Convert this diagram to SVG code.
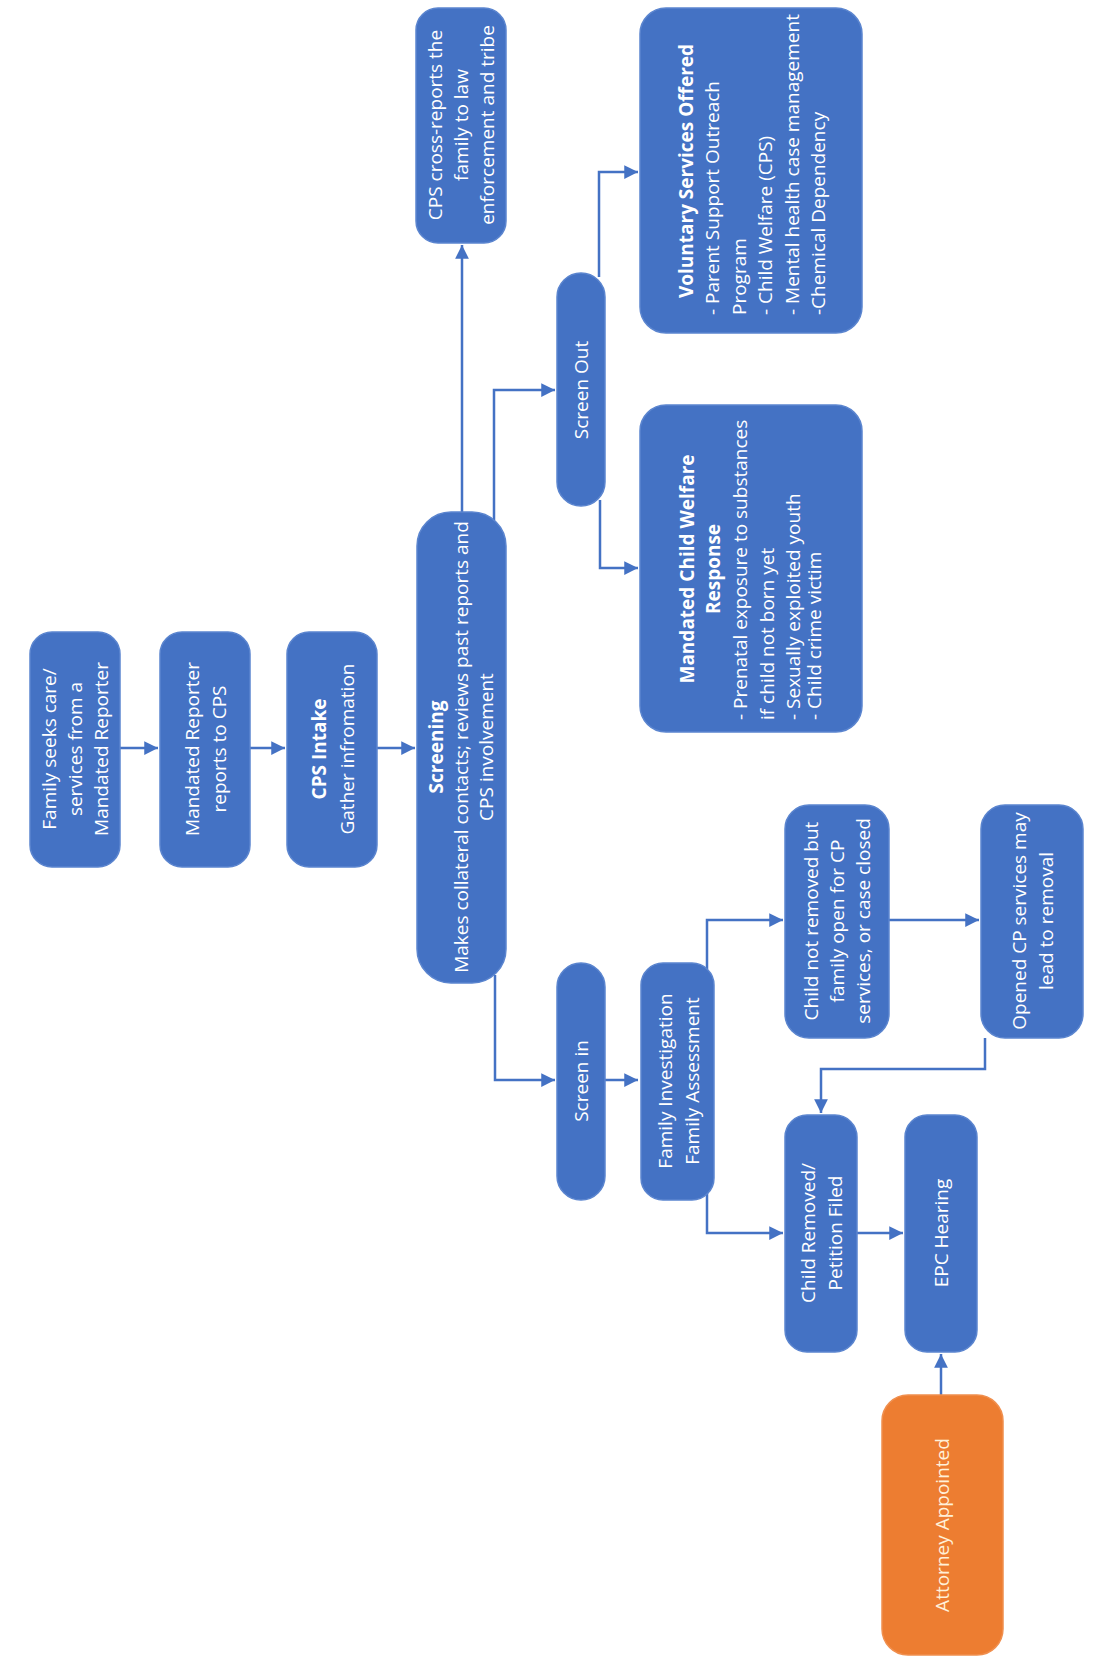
<svg xmlns="http://www.w3.org/2000/svg" width="1107" height="1678" viewBox="0 0 1107 1678">
<defs>
<marker id="ah" viewBox="0 0 10 10" refX="10" refY="5" markerWidth="5.5" markerHeight="5.5" orient="auto" markerUnits="strokeWidth">
<path d="M0,0 L10,5 L0,10 z" fill="#4472C4"/>
</marker>
<style>
.b{fill:#4472C4;stroke:#5B85CF;stroke-width:1.5}
.o{fill:#ED7D31;stroke:#F08F4E;stroke-width:1.5}
.t{font-family:"Open Sans","Liberation Sans",sans-serif;font-size:19px;fill:#ffffff;text-anchor:middle}
.s{text-anchor:start}
.bd{font-weight:bold}
.ot{fill:#FFF0D8}
.c{fill:none;stroke:#4472C4;stroke-width:2.5;marker-end:url(#ah)}
</style>
</defs>
<rect width="1107" height="1678" fill="#ffffff"/>

<g id="connectors">
<path class="c" d="M120,748 H158"/>
<path class="c" d="M250,748 H285"/>
<path class="c" d="M377,748 H415"/>
<path class="c" d="M462,515 V245"/>
<path class="c" d="M494,523 V390 H555"/>
<path class="c" d="M599,277 V172 H638"/>
<path class="c" d="M600,500 V568 H638"/>
<path class="c" d="M495,975 V1080 H555"/>
<path class="c" d="M605,1080 H638"/>
<path class="c" d="M707,969 V920 H783"/>
<path class="c" d="M889,920 H979"/>
<path class="c" d="M985,1038 V1069 H821 V1113"/>
<path class="c" d="M707,1190 V1233 H783"/>
<path class="c" d="M857,1233 H903"/>
<path class="c" d="M941,1395 V1354"/>
</g>

<g id="n-family">
<rect class="b" x="30" y="632" width="90" height="235" rx="22"/>
<text class="t" transform="translate(75,749) rotate(-90)"><tspan x="0" y="-19">Family seeks care/</tspan><tspan x="0" y="7">services from a</tspan><tspan x="0" y="33">Mandated Reporter</tspan></text>
</g>
<g id="n-reporter">
<rect class="b" x="160" y="632" width="90" height="235" rx="22"/>
<text class="t" transform="translate(205,749) rotate(-90)"><tspan x="0" y="-6">Mandated Reporter</tspan><tspan x="0" y="21">reports to CPS</tspan></text>
</g>
<g id="n-intake">
<rect class="b" x="287" y="632" width="90" height="235" rx="22"/>
<text class="t" transform="translate(332,749) rotate(-90)"><tspan class="bd" x="0" y="-6">CPS Intake</tspan><tspan x="0" y="22">Gather infromation</tspan></text>
</g>
<g id="n-screening">
<rect class="b" x="417" y="512" width="89" height="471" rx="34"/>
<text class="t" transform="translate(461,747) rotate(-90)"><tspan class="bd" x="0" y="-18">Screening</tspan><tspan x="0" y="7">Makes collateral contacts; reviews past reports and</tspan><tspan x="0" y="32">CPS involvement</tspan></text>
</g>
<g id="n-crossreport">
<rect class="b" x="416" y="8" width="90" height="235" rx="22"/>
<text class="t" transform="translate(461,125) rotate(-90)"><tspan x="0" y="-19">CPS cross-reports the</tspan><tspan x="0" y="7">family to law</tspan><tspan x="0" y="33">enforcement and tribe</tspan></text>
</g>
<g id="n-screenout">
<rect class="b" x="557" y="273" width="48" height="233" rx="24"/>
<text class="t" transform="translate(581,390) rotate(-90)"><tspan x="0" y="7">Screen Out</tspan></text>
</g>
<g id="n-voluntary">
<rect class="b" x="640" y="8" width="222" height="325" rx="26"/>
<text class="t" transform="translate(751,171) rotate(-90)"><tspan class="bd" x="0" y="-58">Voluntary Services Offered</tspan><tspan class="s" x="-144" y="-32">- Parent Support Outreach</tspan><tspan class="s" x="-144" y="-5">Program</tspan><tspan class="s" x="-144" y="21">- Child Welfare (CPS)</tspan><tspan class="s" x="-144" y="48">- Mental health case management</tspan><tspan class="s" x="-144" y="74">-Chemical Dependency</tspan></text>
</g>
<g id="n-mandated">
<rect class="b" x="640" y="405" width="222" height="327" rx="26"/>
<text class="t" transform="translate(751,569) rotate(-90)"><tspan class="bd" x="0" y="-57">Mandated Child Welfare</tspan><tspan class="bd" x="0" y="-31">Response</tspan><tspan class="s" x="-151" y="-4">- Prenatal exposure to substances</tspan><tspan class="s" x="-151" y="23">if child not born yet</tspan><tspan class="s" x="-151" y="49">- Sexually exploited youth</tspan><tspan class="s" x="-151" y="70">- Child crime victim</tspan></text>
</g>
<g id="n-screenin">
<rect class="b" x="557" y="963" width="48" height="237" rx="24"/>
<text class="t" transform="translate(581,1081) rotate(-90)"><tspan x="0" y="7">Screen in</tspan></text>
</g>
<g id="n-investigation">
<rect class="b" x="641" y="963" width="73" height="237" rx="22"/>
<text class="t" transform="translate(677,1081) rotate(-90)"><tspan x="0" y="-5">Family Investigation</tspan><tspan x="0" y="22">Family Assessment</tspan></text>
</g>
<g id="n-notremoved">
<rect class="b" x="785" y="805" width="104" height="233" rx="24"/>
<text class="t" transform="translate(837,921) rotate(-90)"><tspan x="0" y="-19">Child not removed but</tspan><tspan x="0" y="7">family open for CP</tspan><tspan x="0" y="33">services, or case closed</tspan></text>
</g>
<g id="n-openedcp">
<rect class="b" x="981" y="805" width="102" height="233" rx="24"/>
<text class="t" transform="translate(1032,921) rotate(-90)"><tspan x="0" y="-6">Opened CP services may</tspan><tspan x="0" y="21">lead to removal</tspan></text>
</g>
<g id="n-removed">
<rect class="b" x="785" y="1115" width="72" height="237" rx="22"/>
<text class="t" transform="translate(821,1233) rotate(-90)"><tspan x="0" y="-6">Child Removed/</tspan><tspan x="0" y="21">Petition Filed</tspan></text>
</g>
<g id="n-epc">
<rect class="b" x="905" y="1115" width="72" height="237" rx="22"/>
<text class="t" transform="translate(941,1233) rotate(-90)"><tspan x="0" y="7">EPC Hearing</tspan></text>
</g>
<g id="n-attorney">
<rect class="o" x="882" y="1395" width="121" height="260" rx="26"/>
<text class="t ot" transform="translate(942,1525) rotate(-90)"><tspan x="0" y="7">Attorney Appointed</tspan></text>
</g>
</svg>
